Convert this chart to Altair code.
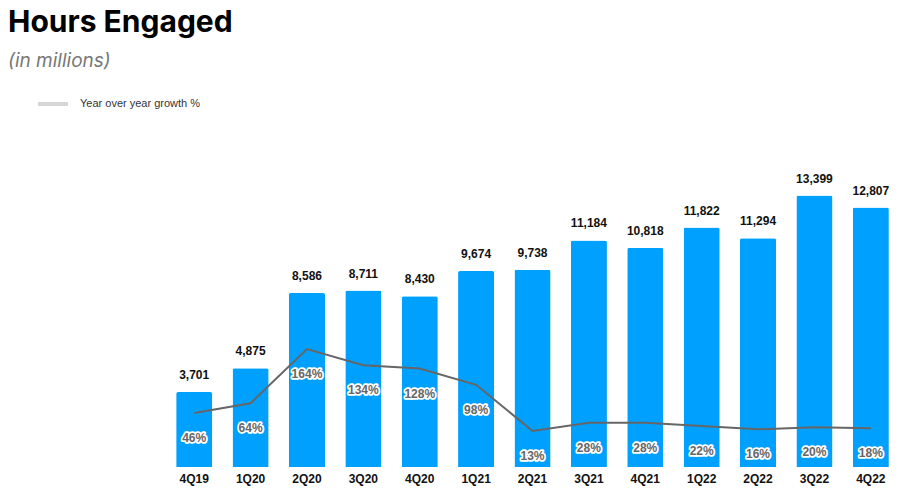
import altair as alt
import pandas as pd

quarters = ["4Q19", "1Q20", "2Q20", "3Q20", "4Q20", "1Q21", "2Q21",
            "3Q21", "4Q21", "1Q22", "2Q22", "3Q22", "4Q22"]
hours = [3701, 4875, 8586, 8711, 8430, 9674, 9738,
         11184, 10818, 11822, 11294, 13399, 12807]
growth = [46, 64, 164, 134, 128, 98, 13, 28, 28, 22, 16, 20, 18]
series_name = "Year over year growth %"

df = pd.DataFrame({
    "quarter": quarters,
    "hours": hours,
    "growth": growth,
    "series": [series_name] * len(quarters),
})
df["hours_label"] = df["hours"].map(lambda v: f"{v:,}")
df["growth_label"] = df["growth"].map(lambda v: f"{v}%")

x = alt.X("quarter:N", sort=quarters, title=None,
          scale=alt.Scale(paddingInner=0.36, paddingOuter=0.18),
          axis=alt.Axis(labelAngle=0, labelFont="Liberation Sans", labelFontSize=12,
                        labelFontWeight="bold", labelColor="#111", ticks=False,
                        domain=False, labelPadding=6))

y_bar = alt.Y("hours:Q", axis=None, scale=alt.Scale(domain=[0, 15650], nice=False, zero=True))
y_line = alt.Y("growth:Q", axis=None, scale=alt.Scale(domain=[-53.5, 531], nice=False, zero=False))

base = alt.Chart(df)

bars = base.mark_bar(color="#00A0FF", cornerRadiusTopLeft=2, cornerRadiusTopRight=2).encode(x=x, y=y_bar)
bar_text = base.mark_text(baseline="bottom", dy=-10, font="Liberation Sans", fontSize=12,
                          fontWeight="bold", color="#111").encode(x=x, y=y_bar, text="hours_label:N")
left = alt.layer(bars, bar_text)

legend_line = base.mark_line(opacity=0).encode(
    x=x, y=y_line,
    color=alt.Color("series:N", scale=alt.Scale(range=["#d6d6d6"]), title=None,
                    legend=alt.Legend(orient="none", legendX=-130, legendY=-63,
                                      symbolType="stroke", symbolSize=900, symbolStrokeWidth=4,
                                      symbolOpacity=1, labelOffset=10,
                                      labelFont="Liberation Sans", labelFontSize=11,
                                      labelColor="#333")))
line = base.mark_line(strokeWidth=2, color="#666666").encode(x=x, y=y_line)
halo = base.mark_text(baseline="middle", dy=25, font="Liberation Sans", fontSize=12,
                      fontWeight="bold", stroke="white", strokeWidth=3.5, color="white",
                      strokeJoin="round").encode(x=x, y=y_line, text="growth_label:N")
ptext = base.mark_text(baseline="middle", dy=25, font="Liberation Sans", fontSize=12,
                       fontWeight="bold", color="#666666").encode(x=x, y=y_line, text="growth_label:N")
right = alt.layer(legend_line, line, halo, ptext)

chart = alt.layer(left, right).resolve_scale(y="independent").properties(
    width=733, height=317,
    autosize=alt.AutoSizeParams(type="none"),
    padding={"left": 158, "top": 142, "right": 0, "bottom": 28},
    title=alt.TitleParams(
        text="Hours Engaged", subtitle="(in millions)", anchor="start", dx=-28,
        font="Inter", fontSize=30, fontWeight="bold", color="#000",
        subtitleFont="Inter", subtitleFontSize=19, subtitleFontStyle="italic",
        subtitleColor="#777", subtitlePadding=14, offset=16,
    ),
).configure_view(stroke=None)

chart.save("out.html", embed_options={"renderer": "svg", "actions": False})
